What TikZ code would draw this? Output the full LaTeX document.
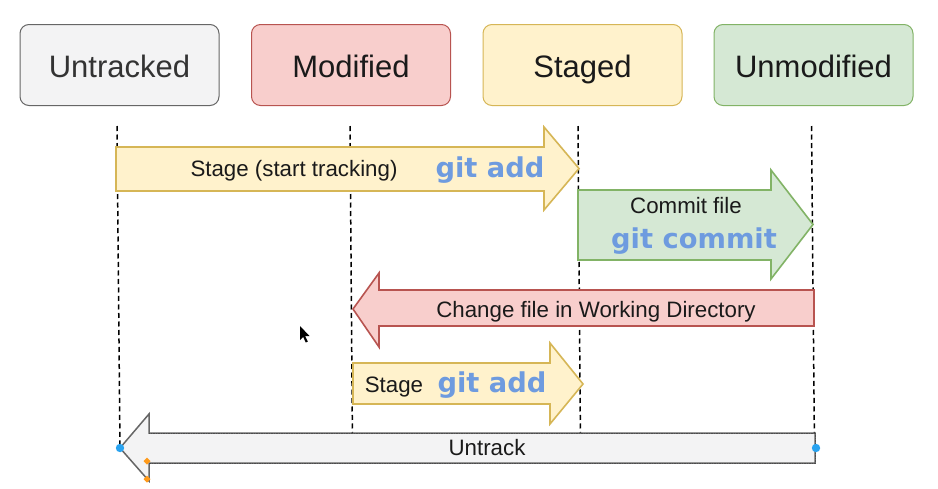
\documentclass[tikz,border=0pt]{standalone}
\usepackage{fontspec}
\setmainfont{Liberation Sans}
\newfontfamily\gitfont{DejaVu Sans}
\definecolor{grayfill}{HTML}{F3F3F4}
\definecolor{graydraw}{HTML}{666666}
\definecolor{redfill}{HTML}{F8CECC}
\definecolor{reddraw}{HTML}{B85450}
\definecolor{yelfill}{HTML}{FFF2CC}
\definecolor{yeldraw}{HTML}{D6B656}
\definecolor{grnfill}{HTML}{D5E8D4}
\definecolor{grndraw}{HTML}{82B366}
\definecolor{gitblue}{HTML}{6E9BDF}
\definecolor{txt}{HTML}{1A1A1A}
\definecolor{selblue}{HTML}{29A3F0}
\definecolor{selorange}{HTML}{FF9A1A}
\tikzset{
  statebox/.style={draw, rounded corners=9pt, line width=1pt, minimum width=199pt,
    minimum height=81pt, inner sep=0pt, text height=27pt, text depth=3pt,
    text=txt, font=\fontsize{31}{31}\selectfont},
  guide/.style={line width=1.5pt, dash pattern=on 5pt off 3.5pt, black},
  bigarrow/.style={line width=1.6pt, line join=miter},
  lbl/.style={anchor=base, inner sep=0pt, text=txt, font=\fontsize{22.3}{22.3}\selectfont},
  gitlbl/.style={anchor=base, inner sep=0pt, text=gitblue, font=\gitfont\bfseries\fontsize{27.3}{27.3}\selectfont},
}
\begin{document}
\begin{tikzpicture}[x=1pt,y=-1pt]
\useasboundingbox (0,0) rectangle (938,488);
\fill[white] (0,0) rectangle (938,488);
% state boxes
\node[statebox, fill=grayfill, draw=graydraw, text=black!80] (untracked) at (119.5,65) {Untracked};
\node[statebox, fill=redfill, draw=reddraw] (modified) at (351,65) {Modified};
\node[statebox, fill=yelfill, draw=yeldraw] (staged) at (582.5,65) {Staged};
\node[statebox, fill=grnfill, draw=grndraw] (unmodified) at (813.5,65) {Unmodified};
% guide lines
\coordinate (g1t) at (117,126); \coordinate (g1b) at (120,448);
\coordinate (g2t) at (350,126); \coordinate (g2b) at (352.5,448);
\coordinate (g3t) at (578,126); \coordinate (g3b) at (580.5,448);
\coordinate (g4t) at (811.5,126); \coordinate (g4b) at (814.5,448);
\draw[guide] (g1t) -- (g1b);
\draw[guide] (g2t) -- (g2b);
\draw[guide] (g3t) -- (g3b);
\draw[guide] (g4t) -- (g4b);
% arrow 1: stage (start tracking)
\draw[bigarrow, fill=yelfill, draw=yeldraw] (116,147) -- (544,147) -- (544,127) -- (579,168.5) -- (544,210) -- (544,191) -- (116,191) -- cycle;
\node[lbl] (t1) at (294,176) {Stage (start tracking)};
\node[gitlbl] (c1) at (490,177) {git add};
% arrow 2: commit
\draw[bigarrow, fill=grnfill, draw=grndraw] (578,190) -- (771,190) -- (771,170) -- (813,224.5) -- (771,279) -- (771,260) -- (578,260) -- cycle;
\node[lbl] (t2) at (686,213) {Commit file};
\node[gitlbl] (c2) at (694,248) {git commit};
% arrow 3: change file
\draw[bigarrow, fill=redfill, draw=reddraw] (814,290) -- (379,290) -- (379,273) -- (353,309) -- (379,347) -- (379,326) -- (814,326) -- cycle;
\node[lbl] (t3) at (596,317) {Change file in Working Directory};
% arrow 4: stage
\draw[bigarrow, fill=yelfill, draw=yeldraw] (353,363) -- (550,363) -- (550,343) -- (583,384) -- (550,424) -- (550,404) -- (353,404) -- cycle;
\node[lbl] (t4) at (394,392) {Stage};
\node[gitlbl] (c4) at (492,392) {git add};
% arrow 5: untrack
\draw[bigarrow, fill=grayfill, draw=graydraw, line width=1.5pt] (815,433) -- (149,433) -- (149,414) -- (120,448) -- (149,481) -- (149,463) -- (815,463) -- cycle;
\draw[black!70, line width=0.6pt, dash pattern=on 1.5pt off 1pt] (815,433) -- (149,433);
\draw[black!70, line width=0.6pt, dash pattern=on 1.5pt off 1pt] (149,463) -- (815,463) -- (815,433);
\node[lbl] (t5) at (487,455) {Untrack};
% selection handles
\fill[selblue] (120,448) circle (4.2pt);
\fill[selblue] (816,448) circle (4.2pt);
\fill[selorange] (147,457.5) -- (150.5,461) -- (147,464.5) -- (143.5,461) -- cycle;
\fill[selorange] (147,475.5) -- (150.5,479) -- (147,482.5) -- (143.5,479) -- cycle;
% mouse cursor
\fill[black] (300,326) -- (300,340) -- (303.2,337) -- (305.8,342.5) -- (307.8,341.6) -- (305.2,336.2) -- (309.5,336) -- cycle;
\end{tikzpicture}
\end{document}
